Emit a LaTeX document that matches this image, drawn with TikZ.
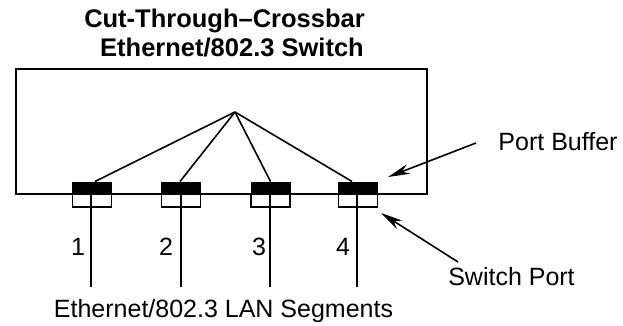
\documentclass[tikz,border=0pt]{standalone}
\usepackage{fontspec}
\setmainfont{Liberation Sans}
\usetikzlibrary{arrows.meta}
\begin{document}
\begin{tikzpicture}[x=1pt,y=-1pt,
  lbl/.style={font=\fontsize{25}{28}\selectfont, inner sep=0pt, anchor=base},
  ttl/.style={font=\fontsize{25.5}{28}\selectfont\bfseries, inner sep=0pt, anchor=base},
  bufbox/.style={fill=black, draw=black, line width=1pt, minimum width=39pt, minimum height=12pt, inner sep=0pt},
  swbox/.style={fill=white, draw=black, line width=1.5pt, minimum width=39pt, minimum height=13pt, inner sep=0pt},
  wire/.style={line width=1.6pt},
  lead/.style={line width=2pt},
  pointer/.style={line width=1.6pt, -{Stealth[length=22pt,width=10pt,inset=7pt]}}
]
\useasboundingbox (0,0) rectangle (623,326);
% switch box
\node[draw, line width=2pt, minimum width=411pt, minimum height=125pt, inner sep=0pt] (sw) at (221.5,131.5) {};
% title
\node[ttl] (t1) at (224.5,28) {Cut-Through--Crossbar};
\node[ttl] (t2) at (232,56.5) {Ethernet/802.3 Switch};
% hub
\coordinate (hub) at (235,112);
% ports
\foreach \i/\x/\lx in {1/92/91,2/181/181,3/270.5/270,4/358/357}{
  \node[swbox] (s\i) at (\x,200.5) {};
  \node[bufbox] (b\i) at (\x,188) {};
  \coordinate (e\i) at (\lx,287);
  \draw[lead] (b\i.south -| e\i) -- (e\i);
}
% crossbar wires
\draw[wire] (hub) -- ([xshift=3pt]b1.north);
\draw[wire] (hub) -- ([xshift=-1pt]b2.north);
\draw[wire] (hub) -- (b3.north);
\draw[wire] (hub) -- ([xshift=-6pt]b4.north);
% numbers
\node[lbl] (n1) at (78,255) {1};
\node[lbl] (n2) at (166,255) {2};
\node[lbl] (n3) at (259,255) {3};
\node[lbl] (n4) at (343,255) {4};
% labels
\node[lbl] (seg) at (223.5,317) {Ethernet/802.3 LAN Segments};
\node[lbl] (pb) at (558,150) {Port Buffer};
\node[lbl] (sp) at (511.5,285) {Switch Port};
% pointers
\coordinate (pbtail) at (476,143);
\coordinate (pbtip) at (388,177);
\coordinate (sptail) at (458,262);
\coordinate (sptip) at (381,213);
\draw[pointer] (pbtail) -- (pbtip);
\draw[pointer] (sptail) -- (sptip);
\end{tikzpicture}
\end{document}
